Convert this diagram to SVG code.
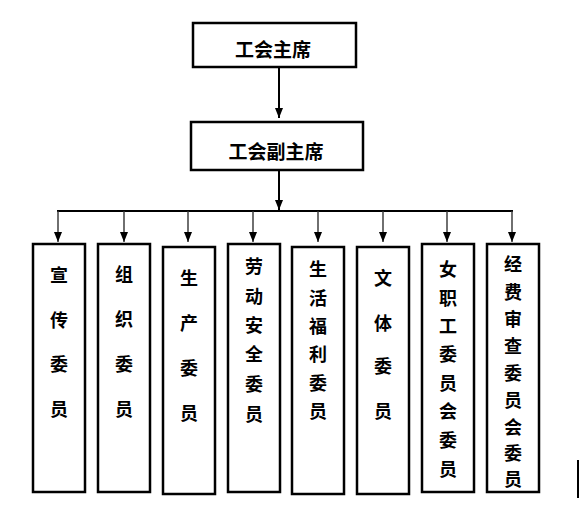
<svg xmlns="http://www.w3.org/2000/svg" width="587" height="529" viewBox="0 0 587 529">
<defs>
<marker id="ah" markerWidth="10" markerHeight="8" refX="10" refY="4" orient="auto" markerUnits="userSpaceOnUse" viewBox="0 0 10 8">
<path d="M0,0 L10,4 L0,8 Z" fill="#000"/>
</marker>
<style>
.box{fill:#fff;stroke:#000;stroke-width:2.5}
.t{font-family:"Noto Sans CJK SC","Noto Sans CJK TC",sans-serif;font-weight:bold;font-size:18px;fill:#000;text-anchor:middle;dominant-baseline:central}
.tt{font-size:19px}
.main{stroke:#000;stroke-width:2;fill:none}
.br{stroke:#333;stroke-width:1.4;fill:none}
</style>
</defs>
<rect width="587" height="529" fill="#fff"/>
<g id="connectors">
<line class="main" x1="279" y1="67" x2="279" y2="118" marker-end="url(#ah)"/>
<line class="main" x1="279" y1="171" x2="279" y2="210" marker-end="url(#ah)"/>
<line class="main" x1="57" y1="211" x2="513" y2="211"/>
<line class="br" x1="58" y1="211" x2="58" y2="242" marker-end="url(#ah)"/>
<line class="br" x1="124" y1="211" x2="124" y2="242" marker-end="url(#ah)"/>
<line class="br" x1="188" y1="211" x2="188" y2="242" marker-end="url(#ah)"/>
<line class="br" x1="253" y1="211" x2="253" y2="242" marker-end="url(#ah)"/>
<line class="br" x1="318" y1="211" x2="318" y2="242" marker-end="url(#ah)"/>
<line class="br" x1="383" y1="211" x2="383" y2="242" marker-end="url(#ah)"/>
<line class="br" x1="447" y1="211" x2="447" y2="242" marker-end="url(#ah)"/>
<line class="br" x1="512" y1="211" x2="512" y2="242" marker-end="url(#ah)"/>
</g>
<g id="n-chair">
<rect class="box" x="193" y="23" width="163" height="44"/>
<text class="t tt" x="273" y="48">工会主席</text>
</g>
<g id="n-vice">
<rect class="box" x="191" y="122" width="172" height="48"/>
<text class="t tt" x="276" y="150">工会副主席</text>
</g>
<g id="n1">
<rect class="box" x="33" y="244" width="52" height="248"/>
<text class="t" x="59" y="274">宣</text>
<text class="t" x="59" y="319">传</text>
<text class="t" x="59" y="363">委</text>
<text class="t" x="59" y="408">员</text>
</g>
<g id="n2">
<rect class="box" x="98" y="244" width="52" height="248"/>
<text class="t" x="124" y="273">组</text>
<text class="t" x="124" y="318">织</text>
<text class="t" x="124" y="363">委</text>
<text class="t" x="124" y="408">员</text>
</g>
<g id="n3">
<rect class="box" x="163" y="247" width="52" height="247"/>
<text class="t" x="189" y="277">生</text>
<text class="t" x="189" y="322">产</text>
<text class="t" x="189" y="367">委</text>
<text class="t" x="189" y="412">员</text>
</g>
<g id="n4">
<rect class="box" x="228" y="244" width="52" height="248"/>
<text class="t" x="254" y="265">劳</text>
<text class="t" x="254" y="295">动</text>
<text class="t" x="254" y="324">安</text>
<text class="t" x="254" y="353">全</text>
<text class="t" x="254" y="383">委</text>
<text class="t" x="254" y="413">员</text>
</g>
<g id="n5">
<rect class="box" x="292" y="247" width="52" height="247"/>
<text class="t" x="318" y="268">生</text>
<text class="t" x="318" y="297">活</text>
<text class="t" x="318" y="325">福</text>
<text class="t" x="318" y="353">利</text>
<text class="t" x="318" y="382">委</text>
<text class="t" x="318" y="410">员</text>
</g>
<g id="n6">
<rect class="box" x="357" y="247" width="52" height="247"/>
<text class="t" x="383" y="277">文</text>
<text class="t" x="383" y="322">体</text>
<text class="t" x="383" y="365">委</text>
<text class="t" x="383" y="410">员</text>
</g>
<g id="n7">
<rect class="box" x="422" y="244" width="52" height="248"/>
<text class="t" x="448" y="268">女</text>
<text class="t" x="448" y="297">职</text>
<text class="t" x="448" y="325">工</text>
<text class="t" x="448" y="353">委</text>
<text class="t" x="448" y="382">员</text>
<text class="t" x="448" y="410">会</text>
<text class="t" x="448" y="439">委</text>
<text class="t" x="448" y="468">员</text>
</g>
<g id="n8">
<rect class="box" x="487" y="244" width="52" height="248"/>
<text class="t" x="513" y="263">经</text>
<text class="t" x="513" y="291">费</text>
<text class="t" x="513" y="318">审</text>
<text class="t" x="513" y="345">查</text>
<text class="t" x="513" y="372">委</text>
<text class="t" x="513" y="399">员</text>
<text class="t" x="513" y="426">会</text>
<text class="t" x="513" y="452">委</text>
<text class="t" x="513" y="478">员</text>
</g>
<line x1="578" y1="460" x2="578" y2="498" stroke="#000" stroke-width="2"/>
</svg>
